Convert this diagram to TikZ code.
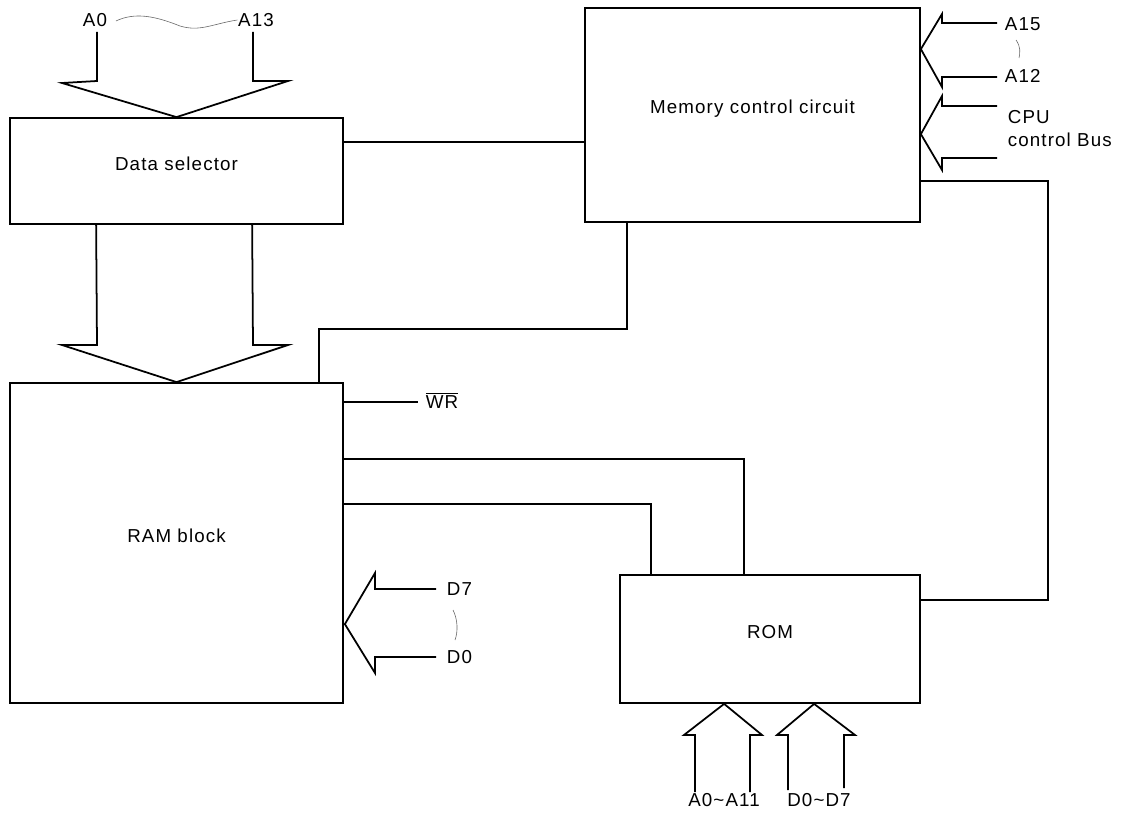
\documentclass[tikz,border=0pt]{standalone}
\usepackage{fontspec}
\setmainfont{Liberation Sans}[LetterSpace=6]
\usetikzlibrary{fit,calc}
\begin{document}
\begin{tikzpicture}[x=0.03cm,y=-0.03cm,line width=1.5pt,
  blk/.style={draw,inner sep=0pt,font=\fontsize{16}{19}\selectfont},
  lbl/.style={inner sep=0pt,font=\fontsize{16}{19.5}\selectfont},
  bus/.style={draw,line join=miter},
  squig/.style={line width=0.5pt,black!60}]
\useasboundingbox (0,0) rectangle (1125,820);

% blocks
\node[blk,fit={(10,118) (343,224)}] (ds) {Data selector};
\node[blk,fit={(585,8) (920,222)}] (mcc) {Memory control circuit};
\node[blk,fit={(10,383) (343,703)}] (ram) {RAM block};
\node[blk,fit={(620,575) (920,703)}] (rom) {ROM};

% address bus into the data selector
\coordinate (a0) at (97,32);
\coordinate (a13) at (253,32);
\node[lbl] (la0) at (95,20) {A0};
\node[lbl] (la13) at (256,20) {A13};
\draw[squig] (la0.east) ++(8,1) .. controls (135,12) and (155,16) .. (180,26)
  .. controls (200,32) and (212,24) .. (la13.west);
\draw[bus] (a0) -- (97,81) -- (62,83) -- (ds.north) -- (288,81) -- (253,81) -- (a13);

% data selector to RAM
\draw[bus] ($(ds.south west)+(87,0)$) -- (97,345) -- (62,345) -- (ram.north)
  -- (288,345) -- (253,345) -- ($(ds.south west)+(243,0)$);

% data selector to memory control
\coordinate (dsm) at ($(ds.north east)+(0,25)$);
\draw (dsm) -- (dsm -| mcc.west);

% A15 ... A12 into memory control
\coordinate (ahead) at ($(mcc.north east)+(0,42)$);
\node[lbl,anchor=west] (la15) at (1004,24) {A15};
\node[lbl,anchor=west] (la12) at (1004,76) {A12};
\draw[bus] (997,23) -- (942,23) -- (942,14) -- (ahead) -- (942,87) -- (942,77) -- (997,77);
\draw[squig] (1016,40) .. controls (1021,47) and (1020,53) .. (1019,58);

% CPU control bus into memory control
\coordinate (chead) at ($(mcc.north east)+(0,127)$);
\node[lbl,anchor=north west,align=left] (lcpu) at (1007,110) {CPU\\control Bus};
\draw[bus] (997,106) -- (942,106) -- (942,96) -- (chead) -- (942,170) -- (942,158) -- (997,158);

% memory control to RAM
\coordinate (mram) at ($(ram.north east)+(-25,0)$);
\draw ($(mcc.south west)+(43,0)$) |- ($(mram)+(0,-53)$) -- (mram);

% memory control to ROM
\coordinate (mrom) at ($(mcc.north east)+(0,174)$);
\draw (mrom) -- ++(127,0) |- ($(rom.north east)+(0,26)$);

% write strobe
\coordinate (wr) at ($(ram.north east)+(0,20)$);
\node[lbl,anchor=base west] (lwr) at (425,408) {$\overline{\mbox{WR}}$};
\draw (wr) -- (wr -| 418,0);

% RAM to ROM
\coordinate (r1) at ($(ram.north east)+(0,77)$);
\draw (r1) -| ($(rom.north west)+(125,0)$);
\coordinate (r2) at ($(ram.north east)+(0,122)$);
\draw (r2) -| ($(rom.north west)+(32,0)$);

% data bus D7 ... D0 into RAM
\coordinate (dhead) at ($(ram.north east)+(1,242)$);
\node[lbl,anchor=west] (ld7) at (446,589) {D7};
\node[lbl,anchor=west] (ld0) at (446,657) {D0};
\draw[bus] (436,589) -- (375,589) -- (375,573) -- (dhead) -- (375,673) -- (375,657) -- (436,657);
\draw[squig] (453,610) .. controls (458,620) and (458,632) .. (455,640);

% address and data buses into ROM
\coordinate (rha) at ($(rom.south west)+(105,0)$);
\coordinate (rhd) at ($(rom.south west)+(195,0)$);
\draw[bus] (695,792) -- (695,735) -- (684,735) -- (rha) -- (762,735) -- (750,735) -- (750,792);
\draw[bus] (788,790) -- (788,735) -- (777,735) -- (rhd) -- (855,735) -- (844,735) -- (844,788);
\node[lbl] (la011) at (724,800) {A0\textasciitilde A11};
\node[lbl] (ld07) at (819,800) {D0\textasciitilde D7};
\end{tikzpicture}
\end{document}
